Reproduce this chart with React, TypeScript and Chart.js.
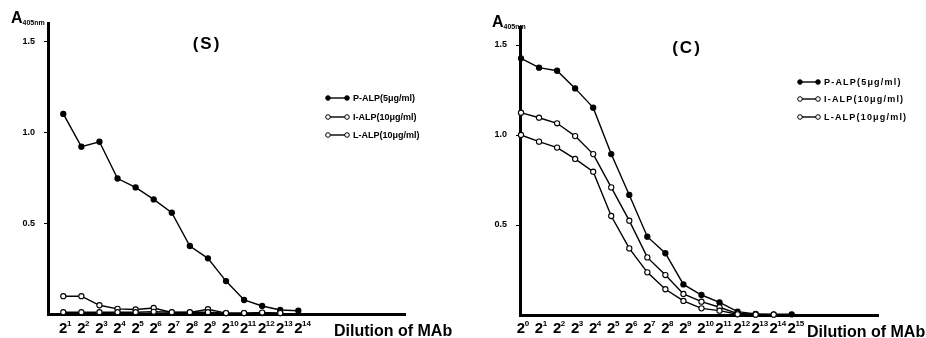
import React, { useEffect, useRef } from "react";
import { Chart, registerables } from "chart.js";

Chart.register(...registerables);

// ---------- data ----------
const sExponents = [1, 2, 3, 4, 5, 6, 7, 8, 9, 10, 11, 12, 13, 14];
const sP = [1.1, 0.92, 0.947, 0.745, 0.696, 0.63, 0.557, 0.374, 0.306, 0.181, 0.077, 0.044, 0.022, 0.018];
const sI = [0.098, 0.098, 0.048, 0.028, 0.025, 0.033, 0.008, 0.008, 0.026, 0.005, 0.005, 0.005, 0.005];
const sL = [0.01, 0.01, 0.01, 0.01, 0.01, 0.012, 0.01, 0.01, 0.01, 0.005, 0.005, 0.008, 0.005];

const cExponents = [0, 1, 2, 3, 4, 5, 6, 7, 8, 9, 10, 11, 12, 13, 14, 15];
const cP = [1.426, 1.374, 1.357, 1.259, 1.152, 0.894, 0.667, 0.435, 0.343, 0.17, 0.111, 0.07, 0.019, 0.006, 0.004, 0.004];
const cI = [1.124, 1.096, 1.065, 0.994, 0.894, 0.709, 0.524, 0.32, 0.222, 0.117, 0.074, 0.043, 0.008, 0.004, 0.002];
const cL = [1.0, 0.963, 0.93, 0.867, 0.796, 0.55, 0.37, 0.237, 0.143, 0.078, 0.037, 0.024, 0.004, 0.002];

const yTicks = [0.5, 1.0, 1.5];
const seriesNames = ["P-ALP(5μg/ml)", "I-ALP(10μg/ml)", "L-ALP(10μg/ml)"];
const xTitle = "Dilution of MAb";
const yTitleMain = "A";
const yTitleSub = "405nm";

const SUP: Record<string, string> = {
  "0": "⁰", "1": "¹", "2": "²", "3": "³", "4": "⁴", "5": "⁵", "6": "⁶", "7": "⁷", "8": "⁸", "9": "⁹",
};

const FONT = "'Liberation Sans', Arial, sans-serif";

type PanelCfg = {
  left: number;
  width: number;
  title: string;
  exps: number[];
  series: number[][];
  xMin: number;
  xMax: number;
  yAxisWidth: number;
  padRight: number;
  padTop: number;
  xHeight: number;
  titleX: number;
  titleY: number;
  legendX: number;
  legendYs: number[];
  legendLine: number;
  legendSpacing: number;
  legendFont: number;
  dilX: number;
  dilY: number;
  aX: number;
  aY: number;
};

function Panel({ cfg }: { cfg: PanelCfg }) {
  const ref = useRef<HTMLCanvasElement | null>(null);
  useEffect(() => {
    const canvas = ref.current;
    if (!canvas) return;
    const fills = ["#000", "#fff", "#fff"];
    const datasets = cfg.series.map((vals, k) => ({
      label: seriesNames[k],
      data: vals.map((v, i) => ({ x: cfg.exps[i], y: v })),
      borderColor: "#000",
      borderWidth: 1.4,
      pointRadius: 2.6,
      pointBackgroundColor: fills[k],
      pointBorderColor: "#000",
      pointBorderWidth: 1.1,
      tension: 0,
      clip: false as any,
    }));
    // draw order: L, I, then P on top
    datasets.reverse();

    const deco = {
      id: "deco",
      afterDraw(chart: any) {
        const ctx = chart.ctx as CanvasRenderingContext2D;
        const xs = chart.scales.x;
        const area = chart.chartArea;
        ctx.save();
        ctx.fillStyle = "#000";
        ctx.strokeStyle = "#000";
        // x tick labels 2^n
        ctx.textBaseline = "alphabetic";
        for (const e of cfg.exps) {
          const px = xs.getPixelForValue(e);
          ctx.font = `bold 15px ${FONT}`;
          ctx.textAlign = "center";
          ctx.fillText("2", px, 333);
          const w = ctx.measureText("2").width;
          ctx.font = `bold 8px ${FONT}`;
          ctx.textAlign = "left";
          ctx.fillText(String(e), px + w / 2 - 0.5, 326);
        }
        // x title
        ctx.font = `bold 16px ${FONT}`;
        ctx.textAlign = "left";
        ctx.fillText(xTitle, cfg.dilX, cfg.dilY);
        // y title
        ctx.font = `bold 16px ${FONT}`;
        ctx.fillText(yTitleMain, cfg.aX, cfg.aY);
        const aw = ctx.measureText(yTitleMain).width;
        ctx.font = `bold 7px ${FONT}`;
        ctx.fillText(yTitleSub, cfg.aX + aw, cfg.aY + 2);
        // panel title
        ctx.font = `bold 17px ${FONT}`;
        ctx.textAlign = "center";
        ctx.textBaseline = "middle";
        (ctx as any).letterSpacing = "2px";
        ctx.fillText(cfg.title, cfg.titleX, cfg.titleY);
        (ctx as any).letterSpacing = "0px";
        // legend
        ctx.textAlign = "left";
        ctx.font = `bold ${cfg.legendFont}px ${FONT}`;
        (ctx as any).letterSpacing = `${cfg.legendSpacing}px`;
        cfg.legendYs.forEach((ly, k) => {
          const x0 = cfg.legendX;
          const x1 = x0 + cfg.legendLine;
          ctx.lineWidth = 1.4;
          ctx.beginPath();
          ctx.moveTo(x0, ly);
          ctx.lineTo(x1, ly);
          ctx.stroke();
          for (const cx of [x0, x1]) {
            ctx.beginPath();
            ctx.arc(cx, ly, 2.3, 0, Math.PI * 2);
            ctx.fillStyle = fills[k];
            ctx.fill();
            ctx.lineWidth = 1;
            ctx.stroke();
          }
          ctx.fillStyle = "#000";
          ctx.fillText(seriesNames[k], x1 + 6, ly + 0.5);
        });
        (ctx as any).letterSpacing = "0px";
        ctx.restore();
        void area;
      },
    };

    const chart = new Chart(canvas, {
      type: "line",
      data: { datasets: datasets as any },
      options: {
        animation: false,
        responsive: false,
        devicePixelRatio: 1,
        layout: { padding: { left: 0, right: cfg.padRight, top: cfg.padTop, bottom: 0 } },
        plugins: { legend: { display: false }, tooltip: { enabled: false }, title: { display: false } },
        scales: {
          x: {
            type: "linear",
            min: cfg.xMin,
            max: cfg.xMax,
            ticks: { display: false },
            grid: { display: false },
            border: { display: true, width: 3, color: "#000" },
            afterFit: (s: any) => {
              s.height = cfg.xHeight;
            },
          },
          y: {
            type: "linear",
            min: 0,
            max: 1.6,
            afterBuildTicks: (s: any) => {
              s.ticks = yTicks.map((v) => ({ value: v }));
            },
            ticks: {
              color: "#000",
              font: { family: FONT, weight: "bold", size: 9 },
              padding: 9,
              callback: (v: any) => Number(v).toFixed(1),
            },
            grid: { drawOnChartArea: false, tickLength: 4, color: "#000", lineWidth: 1 },
            border: { display: true, width: 3, color: "#000" },
            afterFit: (s: any) => {
              s.width = cfg.yAxisWidth;
            },
          },
        },
      },
      plugins: [deco],
    });
    return () => chart.destroy();
  }, [cfg]);
  return (
    <canvas
      ref={ref}
      width={cfg.width}
      height={338}
      style={{ position: "absolute", left: cfg.left, top: 0, width: cfg.width, height: 338 }}
    />
  );
}

const leftCfg: PanelCfg = {
  left: 0,
  width: 460,
  title: "(S)",
  exps: sExponents,
  series: [sP, sI, sL],
  xMin: 0.154,
  xMax: 19.9,
  yAxisWidth: 48,
  padRight: 55,
  padTop: 23,
  xHeight: 24,
  titleX: 207,
  titleY: 44,
  legendX: 328,
  legendYs: [98, 117, 135],
  legendLine: 19,
  legendSpacing: 0,
  legendFont: 9,
  dilX: 334,
  dilY: 336,
  aX: 11,
  aY: 23,
};

const rightCfg: PanelCfg = {
  left: 460,
  width: 466,
  title: "(C)",
  exps: cExponents,
  series: [cP, cI, cL],
  xMin: -0.055,
  xMax: 19.78,
  yAxisWidth: 60,
  padRight: 48,
  padTop: 27,
  xHeight: 23,
  titleX: 227,
  titleY: 48,
  legendX: 340,
  legendYs: [82, 99, 117],
  legendLine: 18,
  legendSpacing: 1.2,
  legendFont: 9,
  dilX: 347,
  dilY: 337,
  aX: 32,
  aY: 27,
};

export default function App() {
  return (
    <div style={{ position: "absolute", left: 0, top: 0, width: 926, height: 338, background: "#fff", overflow: "hidden" }}>
      <Panel cfg={leftCfg} />
      <Panel cfg={rightCfg} />
    </div>
  );
}
